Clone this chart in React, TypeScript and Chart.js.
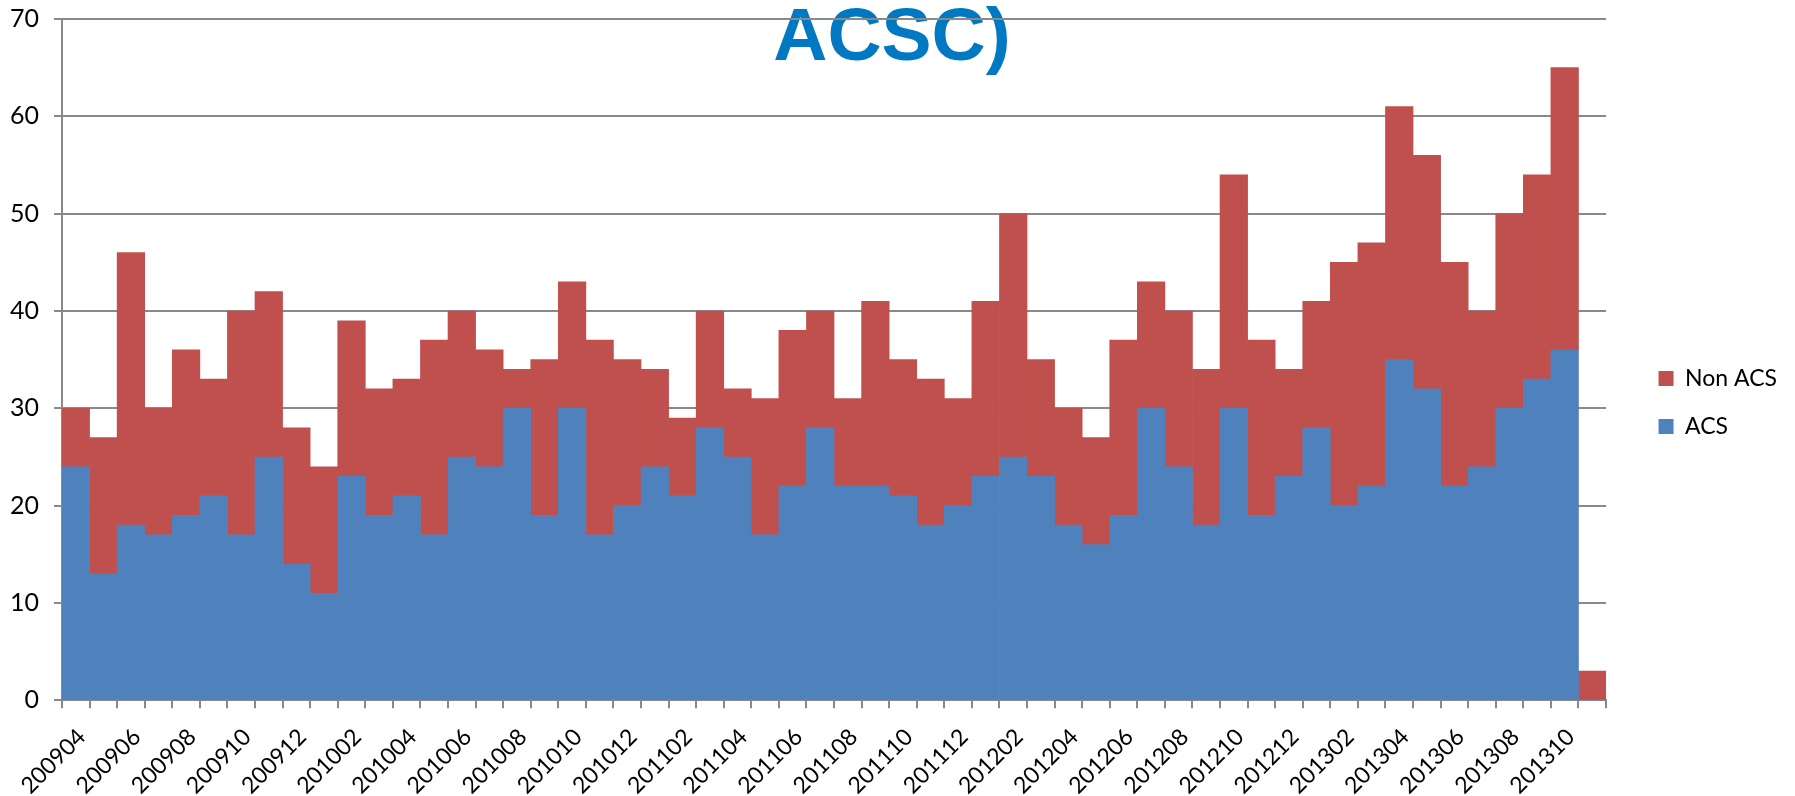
import React, { useEffect, useRef } from "react";
import { Chart, registerables } from "chart.js";

Chart.register(...registerables);

const months = [
  "200904", "200905", "200906", "200907", "200908", "200909", "200910", "200911", "200912",
  "201001", "201002", "201003", "201004", "201005", "201006", "201007", "201008", "201009", "201010", "201011", "201012",
  "201101", "201102", "201103", "201104", "201105", "201106", "201107", "201108", "201109", "201110", "201111", "201112",
  "201201", "201202", "201203", "201204", "201205", "201206", "201207", "201208", "201209", "201210", "201211", "201212",
  "201301", "201302", "201303", "201304", "201305", "201306", "201307", "201308", "201309", "201310", "201311",
];

const acs = [
  24, 13, 18, 17, 19, 21, 17, 25, 14, 11,
  23, 19, 21, 17, 25, 24, 30, 19, 30, 17,
  20, 24, 21, 28, 25, 17, 22, 28, 22, 22,
  21, 18, 20, 23, 25, 23, 18, 16, 19, 30,
  24, 18, 30, 19, 23, 28, 20, 22, 35, 32,
  22, 24, 30, 33, 36, 0,
];

const nonAcs = [
  6, 14, 28, 13, 17, 12, 23, 17, 14, 13,
  16, 13, 12, 20, 15, 12, 4, 16, 13, 20,
  15, 10, 8, 12, 7, 14, 16, 12, 9, 19,
  14, 15, 11, 18, 25, 12, 12, 11, 18, 13,
  16, 16, 24, 18, 11, 13, 25, 25, 26, 24,
  23, 16, 20, 21, 29, 3,
];

const titleText = "ACSC)";
const yMin = 0;
const yMax = 70;
const yStep = 10;

export default function App() {
  const ref = useRef<HTMLCanvasElement>(null);

  useEffect(() => {
    document.body.style.margin = "0";
    const canvas = ref.current;
    if (!canvas) return;

    const titlePlugin = {
      id: "slideTitle",
      beforeDraw(chart: any) {
        const ctx = chart.ctx;
        ctx.save();
        ctx.font = "bold 75px 'Liberation Sans', Arial, sans-serif";
        ctx.fillStyle = "#0079C2";
        ctx.textAlign = "center";
        ctx.textBaseline = "alphabetic";
        ctx.fillText(titleText, 892, 60);
        ctx.restore();
      },
    };

    const font = "Lato, 'Open Sans', sans-serif";

    const chart = new Chart(canvas, {
      type: "bar",
      data: {
        labels: months,
        datasets: [
          {
            label: "ACS",
            data: acs,
            backgroundColor: "#4F81BD",
            borderWidth: 0,
            barPercentage: 1,
            categoryPercentage: 1,
          },
          {
            label: "Non ACS",
            data: nonAcs,
            backgroundColor: "#C0504D",
            borderWidth: 0,
            barPercentage: 1,
            categoryPercentage: 1,
          },
        ],
      },
      options: {
        responsive: false,
        animation: false,
        layout: { padding: { top: 9, right: 8, bottom: 0, left: 0 } },
        plugins: {
          title: { display: false },
          tooltip: { enabled: false },
          legend: {
            position: "right",
            reverse: true,
            labels: {
              boxWidth: 15,
              boxHeight: 15,
              padding: 25,
              color: "#000",
              font: { family: font, size: 23 },
            },
          },
        },
        scales: {
          x: {
            stacked: true,
            offset: true,
            grid: {
              display: true,
              offset: true,
              drawOnChartArea: false,
              drawTicks: true,
              tickLength: 8,
              color: "#898989",
              lineWidth: 2,
            },
            border: { display: true, color: "#898989", width: 2 },
            ticks: {
              autoSkip: false,
              maxRotation: 45,
              minRotation: 45,
              padding: 15,
              labelOffset: 6,
              color: "#000",
              font: { family: font, size: 23 },
              callback: (_v: any, i: number) => (i % 2 === 0 ? months[i] : ""),
            },
            afterFit: (s: any) => {
              s.height = 95.7;
              s.paddingLeft = 0;
              s.paddingRight = 0;
            },
          },
          y: {
            stacked: true,
            min: yMin,
            max: yMax,
            ticks: {
              stepSize: yStep,
              padding: 15,
              color: "#000",
              font: { family: font, size: 25 },
            },
            grid: {
              color: "#898989",
              lineWidth: 2,
              drawTicks: true,
              tickLength: 8,
            },
            border: { display: true, color: "#898989", width: 2 },
            afterFit: (s: any) => {
              s.width = 62;
              s.paddingTop = 19;
              s.paddingBottom = 0;
            },
          },
          yRightGap: {
            position: "right",
            display: true,
            grid: { display: false, drawTicks: false },
            border: { display: false },
            ticks: { display: false },
            afterFit: (s: any) => {
              s.width = 27.5;
              s.paddingTop = 0;
              s.paddingBottom = 0;
            },
          },
        },
      },
      plugins: [titlePlugin],
    });

    return () => {
      chart.destroy();
    };
  }, []);

  return (
    <div style={{ position: "relative", width: 1795, height: 796 }}>
      <canvas ref={ref} width={1795} height={796} style={{ display: "block" }} />
    </div>
  );
}
